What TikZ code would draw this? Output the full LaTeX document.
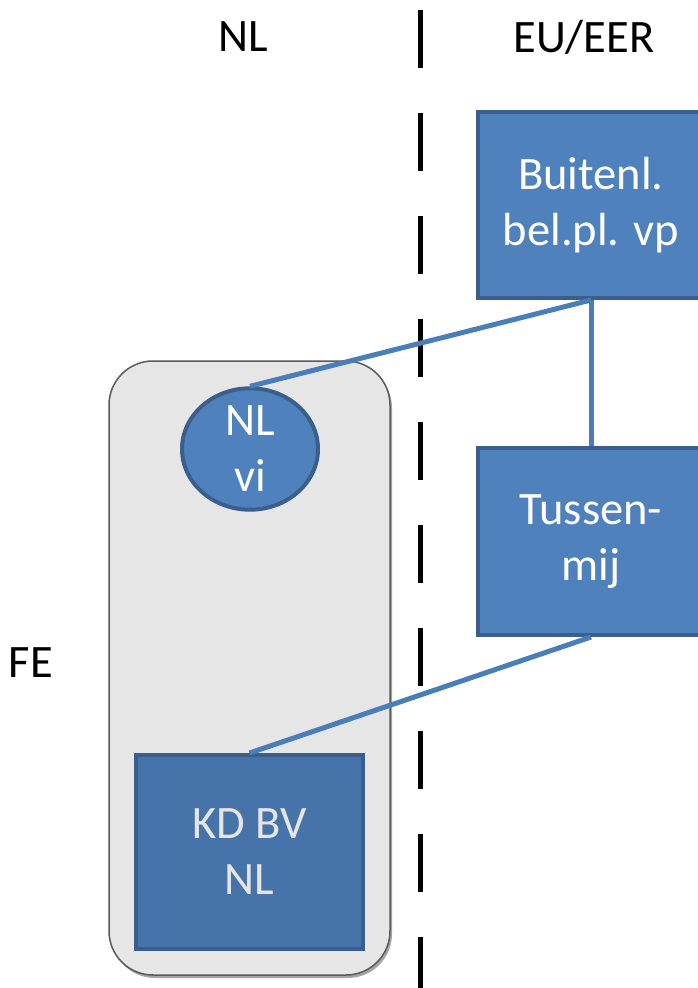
\documentclass[tikz,border=0pt]{standalone}
\usepackage{fontspec}
\setmainfont{Carlito}
\usetikzlibrary{shapes.geometric,shadows}
\definecolor{boxblue}{HTML}{4F81BD}
\definecolor{boxblueD}{HTML}{4673AA}
\definecolor{boxedge}{HTML}{3A5F8C}
\definecolor{linkblue}{HTML}{4A7EBB}
\definecolor{fegray}{HTML}{E6E6E6}
\definecolor{feedge}{HTML}{5A5A5A}
\begin{document}
\begin{tikzpicture}[x=1pt,y=-1pt,
  every node/.style={font=\fontsize{46.5}{56}\selectfont, align=center, inner sep=0pt},
  bluebox/.style={rectangle, fill=boxblue, draw=boxedge, line width=4pt, text=white},
  kdbox/.style={rectangle, fill=boxblueD, draw=boxedge, line width=4pt, text=white!90!black},
  viell/.style={ellipse, fill=boxblue, draw=boxedge, line width=4pt, text=white},
  febox/.style={rectangle, rounded corners=44pt, fill=fegray, draw=feedge, line width=1.5pt,
     drop shadow={shadow xshift=2pt, shadow yshift=-3pt, fill=black, opacity=0.35}},
  link/.style={draw=linkblue, line width=5pt},
  divider/.style={line width=5pt, dash pattern=on 58pt off 45pt}]
\useasboundingbox (0,0) rectangle (697,988);
\fill[white] (0,0) rectangle (697,988);
% labels
\node (lnl) at (243,37) {NL};
\node (leu) at (584,37) {EU/EER};
\node (lfe) at (31,663) {FE};
% divider
\coordinate (dtop) at (420,10);
\coordinate (dbot) at (420,1000);
\draw[divider] (dtop) -- (dbot);
% FE group
\node[febox, minimum width=281, minimum height=614] (fe) at (249.5,668) {};
% boxes
\node[bluebox, minimum width=226, minimum height=186] (bp) at (591,205) {Buitenl.\\bel.pl. vp};
\node[bluebox, minimum width=226, minimum height=187] (tm) at (591,541.5) {Tussen-\\mij};
\node[viell, minimum width=136, minimum height=120] (vi) at (250,449) {NL\\vi};
\node[kdbox, minimum width=227, minimum height=194] (kd) at (249.5,852) {KD BV\\NL};
% connectors
\draw[link] (bp.south) -- (vi.north);
\draw[link] (bp.south) -- (tm.north);
\draw[link] (tm.south) -- (kd.north);
\end{tikzpicture}
\end{document}
